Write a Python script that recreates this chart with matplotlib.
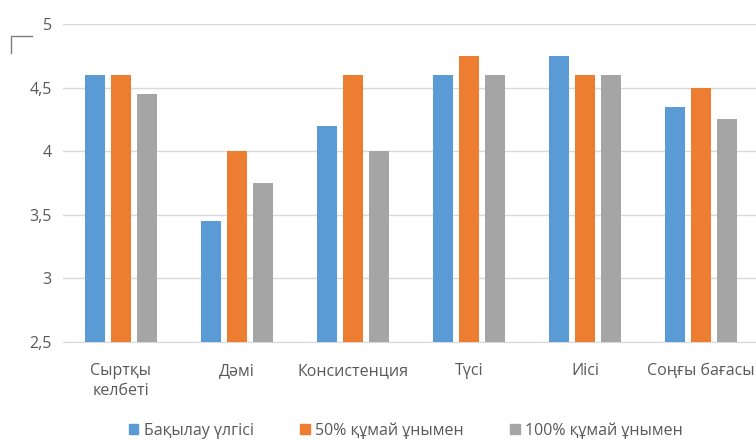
import numpy as np
import matplotlib.pyplot as plt
from matplotlib.lines import Line2D

plt.rcParams['font.family'] = ['Open Sans', 'DejaVu Sans']

categories = ['Сыртқы\nкелбеті', 'Дәмі', 'Консистенция', 'Түсі', 'Иісі', 'Соңғы бағасы']
control = [4.6, 3.45, 4.2, 4.6, 4.75, 4.35]
flour_50 = [4.6, 4.0, 4.6, 4.75, 4.6, 4.5]
flour_100 = [4.45, 3.75, 4.0, 4.6, 4.6, 4.25]
series_names = ['Бақылау үлгісі', '50% құмай ұнымен', '100% құмай ұнымен']
colors = ['#5B9BD5', '#ED7D31', '#A5A5A5']
yticks = [2.5, 3, 3.5, 4, 4.5, 5]
ytick_labels = ['2,5', '3', '3,5', '4', '4,5', '5']

fig = plt.figure(figsize=(7.56, 4.40), dpi=100)
ax = fig.add_axes([0.0833, 0.2227, 0.9207, 0.7227])

x = np.arange(len(categories))
w = 0.175
step = 0.222
for i, (vals, name, c) in enumerate(zip([control, flour_50, flour_100], series_names, colors)):
    ax.bar(x + (i - 1) * step, np.array(vals) - 2.5, w, bottom=2.5, color=c, label=name, zorder=3)

ax.set_xlim(-0.5, len(categories) - 0.5)
ax.set_ylim(2.5, 5)
ax.set_yticks(yticks)
ax.set_yticklabels(ytick_labels)
ax.set_xticks(x)
ax.set_xticklabels(categories, linespacing=1.35)
ax.grid(axis='y', color='#D9D9D9', linewidth=1.0, zorder=0)
for s in ['top', 'right', 'left']:
    ax.spines[s].set_visible(False)
ax.spines['bottom'].set_color('#D9D9D9')
ax.tick_params(axis='both', length=0, labelsize=11.5, colors='#595959')
ax.tick_params(axis='y', pad=8)
ax.tick_params(axis='x', pad=15)
for lbl in ax.get_xticklabels():
    lbl.set_verticalalignment('top')

# small corner bracket at top-left
fig.add_artist(Line2D([11 / 756, 11 / 756, 32 / 756], [1 - 53 / 440, 1 - 36 / 440, 1 - 36 / 440],
                      color='#7F7F7F', linewidth=1.0))

handles = [plt.Rectangle((0, 0), 1, 1, color=c) for c in colors]
fig.legend(handles, series_names, loc='center', bbox_to_anchor=(0.537, 0.022), ncol=3,
           frameon=False, fontsize=11.5, handlelength=0.6, handleheight=0.6,
           handletextpad=0.35, columnspacing=2.9, labelcolor='#595959')

fig.savefig('out.png', dpi=100)
